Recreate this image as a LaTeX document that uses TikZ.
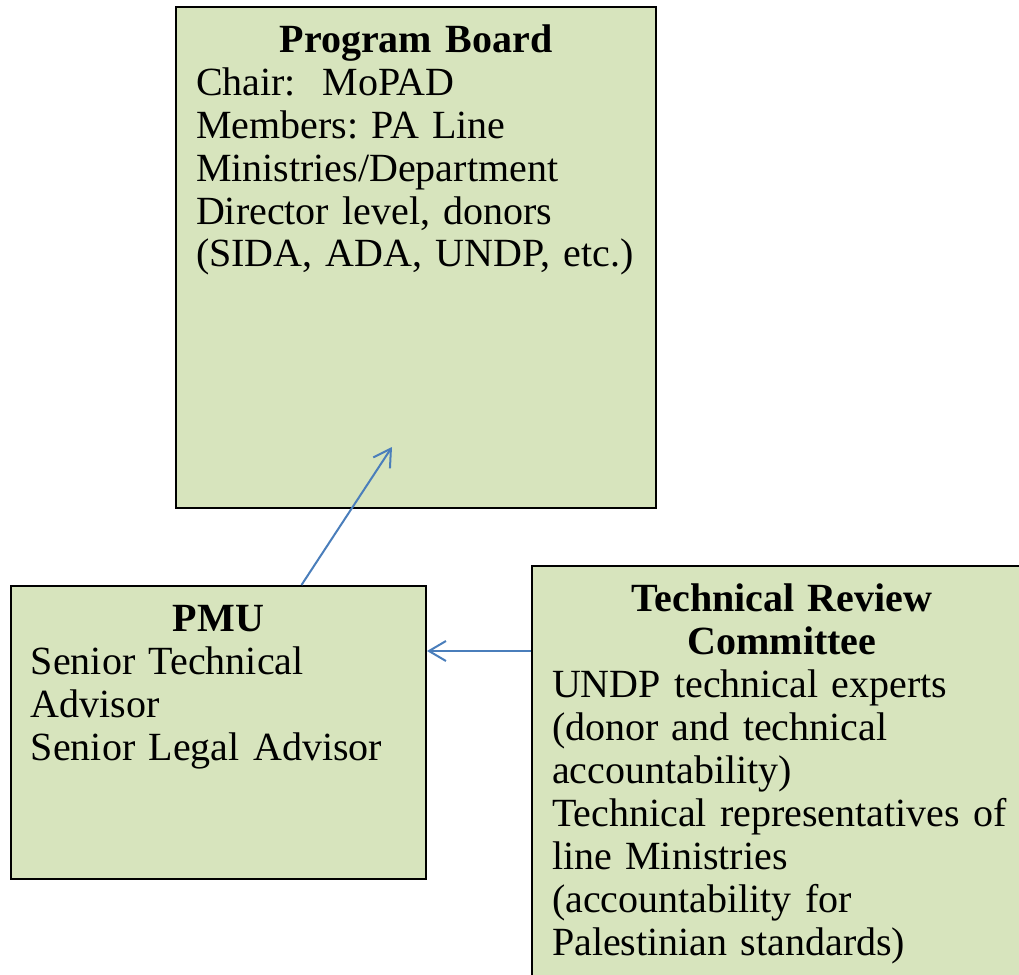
\documentclass[tikz,border=0pt]{standalone}
\usepackage{fontspec}
\setmainfont{Liberation Serif}
\usetikzlibrary{arrows.meta,calc}
\frenchspacing

\definecolor{boxfill}{HTML}{D7E4BD}
\definecolor{linkblue}{HTML}{4A7EBB}

\tikzset{
  orgbox/.style={rectangle, draw=black, line width=1pt, fill=boxfill,
    anchor=north west, align=left, inner xsep=10pt, inner ysep=4pt,
    text height=18.5pt, font=\fontsize{20}{21.5}\selectfont},
  link/.style={draw=linkblue, line width=1pt,
    -{Straight Barb[length=8.5pt, width=10pt, line width=1pt]}}
}

\newcommand{\boxtitle}[1]{\makebox[\linewidth]{\bfseries #1}}

\begin{document}
\begin{tikzpicture}[x=0.5pt, y=-0.5pt]
  \useasboundingbox (0,0) rectangle (1019,975);
  \clip (0,0) rectangle (1019,975);

  \node[orgbox, text width=220pt, text depth=224pt] (board) at (175,6)
    {\boxtitle{Program Board}\\
     Chair:~ MoPAD\\
     Members: PA Line\\
     Ministries/Department\\
     Director level, donors\\
     (SIDA, ADA, UNDP, etc.)};

  \node[orgbox, text width=187.5pt, text depth=120pt] (pmu) at (10,585)
    {\boxtitle{PMU}\\
     Senior Technical\\
     Advisor\\
     Senior Legal Advisor};

  \node[orgbox, text width=230pt, text depth=191pt] (trc) at (531,565)
    {\boxtitle{Technical Review}\\
     \boxtitle{Committee}\\
     UNDP technical experts\\
     (donor and technical\\
     accountability)\\
     Technical representatives of\\
     line Ministries\\
     (accountability for\\
     Palestinian standards)};

  % connectors
  \coordinate (bhead) at (392,447);
  \coordinate (lvl) at (0,651);
  \draw[link] ($(pmu.north west)!0.699!(pmu.north east)$) -- (bhead);
  \draw[link] (trc.west |- lvl) -- (pmu.east |- lvl);
\end{tikzpicture}
\end{document}
